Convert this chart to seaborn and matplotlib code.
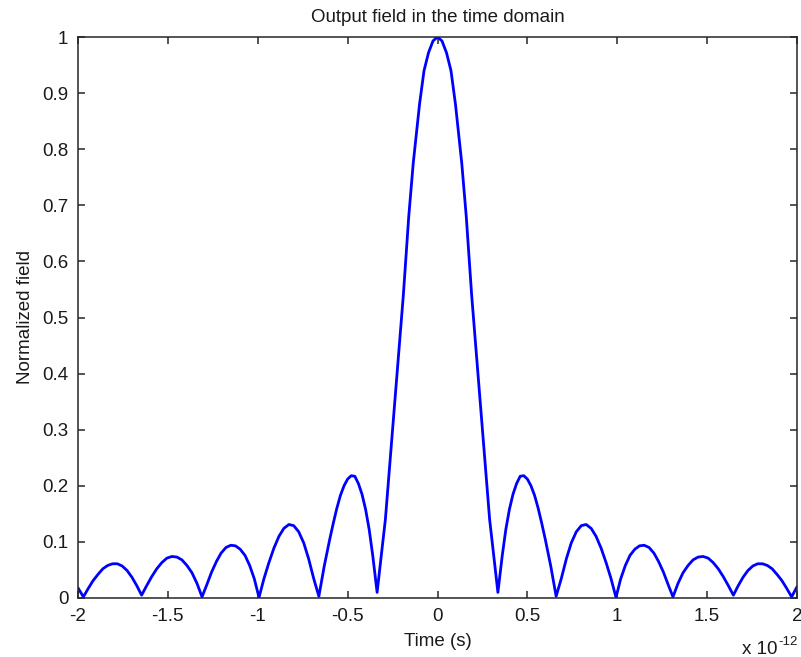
import matplotlib
matplotlib.use("Agg")
import matplotlib.pyplot as plt
import seaborn as sns
import pandas as pd

# Time axis in units of 1e-12 s, normalized field magnitude
time_ps = [
    -2.000, -1.970, -1.943, -1.916, -1.889, -1.862, -1.835, -1.808, -1.781, -1.754, -1.727, -1.700, -1.673, -1.646,
    -1.618, -1.590, -1.562, -1.534, -1.506, -1.478, -1.450, -1.422, -1.394, -1.366, -1.338, -1.310,
    -1.283, -1.257, -1.230, -1.204, -1.177, -1.150, -1.124, -1.098, -1.071, -1.045, -1.019, -0.993,
    -0.965, -0.938, -0.910, -0.882, -0.855, -0.827, -0.800, -0.772, -0.744, -0.717, -0.689, -0.660,
    -0.630, -0.600, -0.580, -0.560, -0.540, -0.520, -0.500, -0.480, -0.460, -0.440, -0.420, -0.400, -0.380, -0.360, -0.336,
    -0.290, -0.250, -0.220, -0.190, -0.160, -0.135, -0.100, -0.075, -0.050, -0.025, 0.000,
    0.025, 0.050, 0.075, 0.100, 0.135, 0.160, 0.190, 0.220, 0.250, 0.290, 0.336,
    0.360, 0.380, 0.400, 0.420, 0.440, 0.460, 0.480, 0.500, 0.520, 0.540, 0.560, 0.580, 0.600, 0.630, 0.660,
    0.689, 0.717, 0.744, 0.772, 0.800, 0.827, 0.855, 0.882, 0.910, 0.938, 0.965, 0.993,
    1.019, 1.045, 1.071, 1.098, 1.124, 1.150, 1.177, 1.204, 1.230, 1.257, 1.283, 1.310,
    1.338, 1.366, 1.394, 1.422, 1.450, 1.478, 1.506, 1.534, 1.562, 1.590, 1.618, 1.646,
    1.673, 1.700, 1.727, 1.754, 1.781, 1.808, 1.835, 1.862, 1.889, 1.916, 1.943, 1.970, 2.000,
]
field = [
    0.018, 0.002, 0.017, 0.031, 0.042, 0.052, 0.058, 0.061, 0.061, 0.057, 0.049, 0.037, 0.022, 0.005,
    0.022, 0.038, 0.052, 0.063, 0.071, 0.074, 0.073, 0.068, 0.058, 0.045, 0.026, 0.002,
    0.024, 0.046, 0.065, 0.080, 0.090, 0.094, 0.093, 0.087, 0.076, 0.058, 0.034, 0.001,
    0.035, 0.063, 0.089, 0.110, 0.124, 0.131, 0.129, 0.118, 0.098, 0.070, 0.035, 0.003,
    0.057, 0.104, 0.133, 0.160, 0.183, 0.200, 0.212, 0.218, 0.217, 0.204, 0.185, 0.158, 0.122, 0.075, 0.010,
    0.140, 0.300, 0.420, 0.540, 0.680, 0.775, 0.880, 0.940, 0.972, 0.993, 1.000,
    0.993, 0.972, 0.940, 0.880, 0.775, 0.680, 0.540, 0.420, 0.300, 0.140, 0.010,
    0.075, 0.122, 0.158, 0.185, 0.204, 0.217, 0.218, 0.212, 0.200, 0.183, 0.160, 0.133, 0.104, 0.057, 0.003,
    0.035, 0.070, 0.098, 0.118, 0.129, 0.131, 0.124, 0.110, 0.089, 0.063, 0.035, 0.001,
    0.034, 0.058, 0.076, 0.087, 0.093, 0.094, 0.090, 0.080, 0.065, 0.046, 0.024, 0.002,
    0.026, 0.045, 0.058, 0.068, 0.073, 0.074, 0.071, 0.063, 0.052, 0.038, 0.022, 0.005,
    0.022, 0.037, 0.049, 0.057, 0.061, 0.061, 0.058, 0.052, 0.042, 0.031, 0.017, 0.002, 0.020,
]
x_ticks = [-2, -1.5, -1, -0.5, 0, 0.5, 1, 1.5, 2]
x_tick_labels = ["-2", "-1.5", "-1", "-0.5", "0", "0.5", "1", "1.5", "2"]
y_ticks = [0, 0.1, 0.2, 0.3, 0.4, 0.5, 0.6, 0.7, 0.8, 0.9, 1]
y_tick_labels = ["0", "0.1", "0.2", "0.3", "0.4", "0.5", "0.6", "0.7", "0.8", "0.9", "1"]

sns.set_style("white")
plt.rcParams["font.family"] = ["Liberation Sans", "DejaVu Sans"]
plt.rcParams["font.size"] = 13.5

df = pd.DataFrame({"time": time_ps, "field": field})

fig = plt.figure(figsize=(8.01, 6.57), dpi=100)
W, H = 801, 657
ax = fig.add_axes([78 / W, 59 / H, 719 / W, 561 / H])

sns.lineplot(data=df, x="time", y="field", ax=ax, color="#0000ff",
             linewidth=2.0, sort=False, estimator=None)

ax.set_xlim(-2, 2)
ax.set_ylim(0, 1)
ax.set_xticks(x_ticks)
ax.set_xticklabels(x_tick_labels)
ax.set_yticks(y_ticks)
ax.set_yticklabels(y_tick_labels)

for s in ax.spines.values():
    s.set_visible(True)
    s.set_color("#262626")
    s.set_linewidth(1.1)

ax.tick_params(direction="in", length=5, width=1.1, color="#262626",
               top=True, right=True, bottom=True, left=True,
               labelsize=13.5, pad=7, labelcolor="#1a1a1a")

ax.set_xlabel("Time (s)", fontsize=13.5, labelpad=6, color="#1a1a1a")
ax.set_ylabel("Normalized field", fontsize=13.5, labelpad=6, color="#1a1a1a")
ax.set_title("Output field in the time domain", fontsize=13.5, pad=11, color="#1a1a1a")

# MATLAB-style exponent label under the right end of the x axis
fig.text(777 / W, 3 / H, "x 10", ha="right", va="baseline", fontsize=13.5, color="#1a1a1a")
fig.text(778 / W, 12 / H, "-12", ha="left", va="baseline", fontsize=9.5, color="#1a1a1a")

fig.savefig("out.png", dpi=100, facecolor="white")
